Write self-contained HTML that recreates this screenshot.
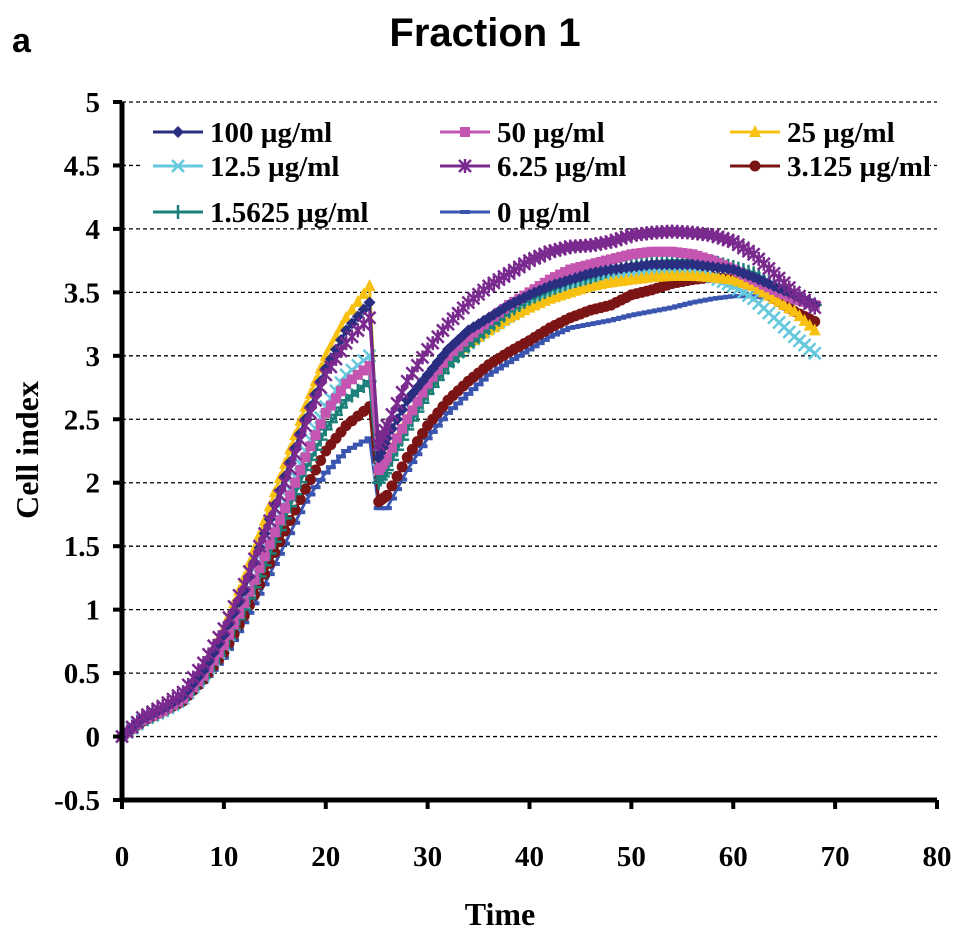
<!DOCTYPE html>
<html><head><meta charset="utf-8"><style>
body{margin:0;background:#fff;}
svg{display:block;}
</style></head><body>
<svg id="chart" width="969" height="940" xmlns="http://www.w3.org/2000/svg">
<text x="12" y="52" font-family="Liberation Sans, sans-serif" font-weight="bold" font-size="34">a</text>
<text x="485" y="46" text-anchor="middle" font-family="Liberation Sans, sans-serif" font-weight="bold" font-size="40">Fraction 1</text>
<g id="grid"></g>
<rect x="140" y="112" width="790" height="112" fill="#fff"/>
<g id="series"></g>
<g id="axes"></g>
<g id="legend"></g>
<text x="500" y="925" text-anchor="middle" font-family="Liberation Serif, serif" font-weight="bold" font-size="32">Time</text>
<text transform="translate(38,450) rotate(-90)" text-anchor="middle" font-family="Liberation Serif, serif" font-weight="bold" font-size="32">Cell index</text>
</svg>
<script>
const times=[0,2,4,6,8,10,12,14,16,18,20,22,24.3,25.2,26,28,30,32,34,36,38,40,42,44,46,48,50,52,54,56,58,60,62,64,66,68];
const labels=["100 µg/ml","50 µg/ml","25 µg/ml","12.5 µg/ml","6.25 µg/ml","3.125 µg/ml","1.5625 µg/ml","0 µg/ml"];
const s100=[0,0.14,0.22,0.32,0.52,0.8,1.15,1.6,2.05,2.5,2.9,3.2,3.42,2.2,2.35,2.65,2.85,3.05,3.2,3.3,3.4,3.48,3.55,3.6,3.65,3.68,3.7,3.72,3.72,3.72,3.7,3.68,3.62,3.55,3.48,3.4];
const s50=[0,0.13,0.2,0.3,0.48,0.72,1.05,1.42,1.8,2.2,2.55,2.78,2.92,2.1,2.2,2.5,2.78,3.0,3.15,3.28,3.4,3.5,3.6,3.68,3.72,3.76,3.8,3.82,3.82,3.8,3.75,3.68,3.6,3.52,3.45,3.4];
const s25=[0,0.14,0.22,0.32,0.55,0.85,1.25,1.7,2.15,2.6,3.0,3.3,3.55,2.1,2.2,2.5,2.75,2.95,3.1,3.2,3.3,3.38,3.45,3.5,3.55,3.58,3.6,3.62,3.63,3.63,3.62,3.6,3.55,3.45,3.35,3.2];
const s12=[0,0.13,0.2,0.3,0.48,0.72,1.05,1.45,1.85,2.25,2.6,2.85,3.0,2.1,2.2,2.5,2.75,2.95,3.1,3.22,3.32,3.42,3.5,3.56,3.6,3.63,3.65,3.67,3.68,3.67,3.62,3.55,3.45,3.3,3.15,3.02];
const s6=[0,0.15,0.24,0.35,0.58,0.85,1.2,1.6,2.0,2.45,2.85,3.1,3.3,2.3,2.45,2.8,3.05,3.25,3.42,3.55,3.65,3.75,3.82,3.86,3.87,3.9,3.95,3.97,3.98,3.97,3.95,3.9,3.8,3.65,3.5,3.38];
const s3=[0,0.12,0.2,0.28,0.45,0.66,0.95,1.28,1.62,1.95,2.25,2.45,2.6,1.85,1.9,2.2,2.45,2.65,2.8,2.93,3.03,3.12,3.22,3.3,3.36,3.4,3.48,3.52,3.57,3.6,3.62,3.6,3.55,3.45,3.35,3.27];
const s1=[0,0.12,0.2,0.29,0.46,0.7,1.0,1.35,1.72,2.1,2.42,2.65,2.8,2.0,2.1,2.42,2.7,2.92,3.08,3.22,3.35,3.45,3.52,3.58,3.62,3.68,3.72,3.74,3.75,3.75,3.74,3.7,3.65,3.55,3.47,3.4];
const s0=[0,0.1,0.18,0.27,0.43,0.62,0.9,1.2,1.52,1.85,2.08,2.25,2.35,1.8,1.8,2.1,2.35,2.55,2.7,2.85,2.95,3.05,3.15,3.22,3.25,3.28,3.32,3.35,3.38,3.42,3.45,3.47,3.47,3.45,3.42,3.4];
const yTicks=[-0.5,0,0.5,1,1.5,2,2.5,3,3.5,4,4.5,5];
const xTicks=[0,10,20,30,40,50,60,70,80];

const NS="http://www.w3.org/2000/svg";
const X0=122,X1=937,Y0=800,Y1=102;
const xs=v=>X0+(v-0)/(80)*(X1-X0);
const ys=v=>Y0-(v+0.5)/5.5*(Y0-Y1);
function mk(tag,attrs,parent){const e=document.createElementNS(NS,tag);for(const k in attrs)e.setAttribute(k,attrs[k]);parent.appendChild(e);return e;}
const grid=document.getElementById('grid'),axes=document.getElementById('axes'),ser=document.getElementById('series'),leg=document.getElementById('legend');
yTicks.forEach(t=>{
  if(t>-0.5){const l=mk('line',{x1:X0,x2:X1,y1:ys(t),y2:ys(t),stroke:'#000','stroke-width':1.3,'stroke-dasharray':'4,3'},grid);
  
  }
  const tk=mk('line',{x1:X0-9,x2:X0,y1:ys(t),y2:ys(t),stroke:'#000','stroke-width':4},axes);
  
  
  const tx=mk('text',{x:100,y:ys(t)+10,'text-anchor':'end','font-family':'Liberation Serif, serif','font-weight':'bold','font-size':29},axes);
  tx.textContent=String(t);
  
  
});
xTicks.forEach(t=>{
  const tk=mk('line',{x1:xs(t),x2:xs(t),y1:Y0,y2:Y0+9,stroke:'#000','stroke-width':4},axes);
  
  
  const tx=mk('text',{x:xs(t),y:866,'text-anchor':'middle','font-family':'Liberation Serif, serif','font-weight':'bold','font-size':29},axes);
  tx.textContent=String(t);
  
  
});
const ya=mk('line',{x1:X0,x2:X0,y1:Y1,y2:Y0+2,stroke:'#000','stroke-width':5},axes);


const xa=mk('line',{x1:X0-2,x2:X1,y1:Y0,y2:Y0,stroke:'#000','stroke-width':5},axes);



function marker(type,x,y,c,p){
  let e;
  if(type==='diamond')e=mk('polygon',{points:`${x},${y-6} ${x+6},${y} ${x},${y+6} ${x-6},${y}`,fill:c},p);
  else if(type==='square')e=mk('rect',{x:x-5,y:y-5,width:10,height:10,fill:c},p);
  else if(type==='triangle')e=mk('polygon',{points:`${x},${y-7} ${x+6},${y+5} ${x-6},${y+5}`,fill:c},p);
  else if(type==='x')e=mk('path',{d:`M${x-6} ${y-6}L${x+6} ${y+6}M${x-6} ${y+6}L${x+6} ${y-6}`,stroke:c,'stroke-width':2.5},p);
  else if(type==='star')e=mk('path',{d:`M${x-6} ${y-6}L${x+6} ${y+6}M${x-6} ${y+6}L${x+6} ${y-6}M${x} ${y-7}L${x} ${y+7}`,stroke:c,'stroke-width':2.5},p);
  else if(type==='circle')e=mk('circle',{cx:x,cy:y,r:5.5,fill:c},p);
  else if(type==='plus')e=mk('path',{d:`M${x-7} ${y}L${x+7} ${y}M${x} ${y-7}L${x} ${y+7}`,stroke:c,'stroke-width':2.5},p);
  else e=mk('rect',{x:x-5,y:y-2,width:10,height:4,fill:c},p);
  
  
}
const defs=[
 {d:s0,c:'#3a55b0',m:'dash'},
 {d:s3,c:'#7b1414',m:'circle'},
 {d:s12,c:'#66c8dc',m:'x'},
 {d:s25,c:'#f8c010',m:'triangle'},
 {d:s1,c:'#1a8079',m:'plus'},
 {d:s50,c:'#c455b0',m:'square'},
 {d:s100,c:'#2a2e80',m:'diamond'},
 {d:s6,c:'#7a2a8e',m:'star'}
];
defs.forEach(s=>{
  const g=mk('g',{},ser);
  
  
  const pts=times.map((t,i)=>xs(t)+','+ys(s.d[i])).join(' ');
  mk('polyline',{points:pts,fill:'none',stroke:s.c,'stroke-width':3},g);
  times.forEach((t,i)=>{marker(s.m,xs(t),ys(s.d[i]),s.c,g);
    if(i<times.length-1 && i!==12){
      for(let k=1;k<4;k++){const f=k/4;marker(s.m,xs(t+(times[i+1]-t)*f),ys(s.d[i]+(s.d[i+1]-s.d[i])*f),s.c,g);}
    }
  });
});
const legItems=[
 [0,'#2a2e80','diamond',153,132],[1,'#c455b0','square',440,132],[2,'#f8c010','triangle',730,132],
 [3,'#66c8dc','x',153,166],[4,'#7a2a8e','star',440,166],[5,'#7b1414','circle',730,166],
 [6,'#1a8079','plus',153,212],[7,'#3a55b0','dash',440,212]];
legItems.forEach(([i,c,m,x,y])=>{
  const g=mk('g',{},leg);
  
  
  mk('line',{x1:x,x2:x+50,y1:y,y2:y,stroke:c,'stroke-width':3},g);
  marker(m,x+25,y,c,g);
  const t=mk('text',{x:x+57,y:y+10,'font-family':'Liberation Serif, serif','font-weight':'bold','font-size':29},g);
  t.textContent=labels[i];
});
</script>
</body></html>
